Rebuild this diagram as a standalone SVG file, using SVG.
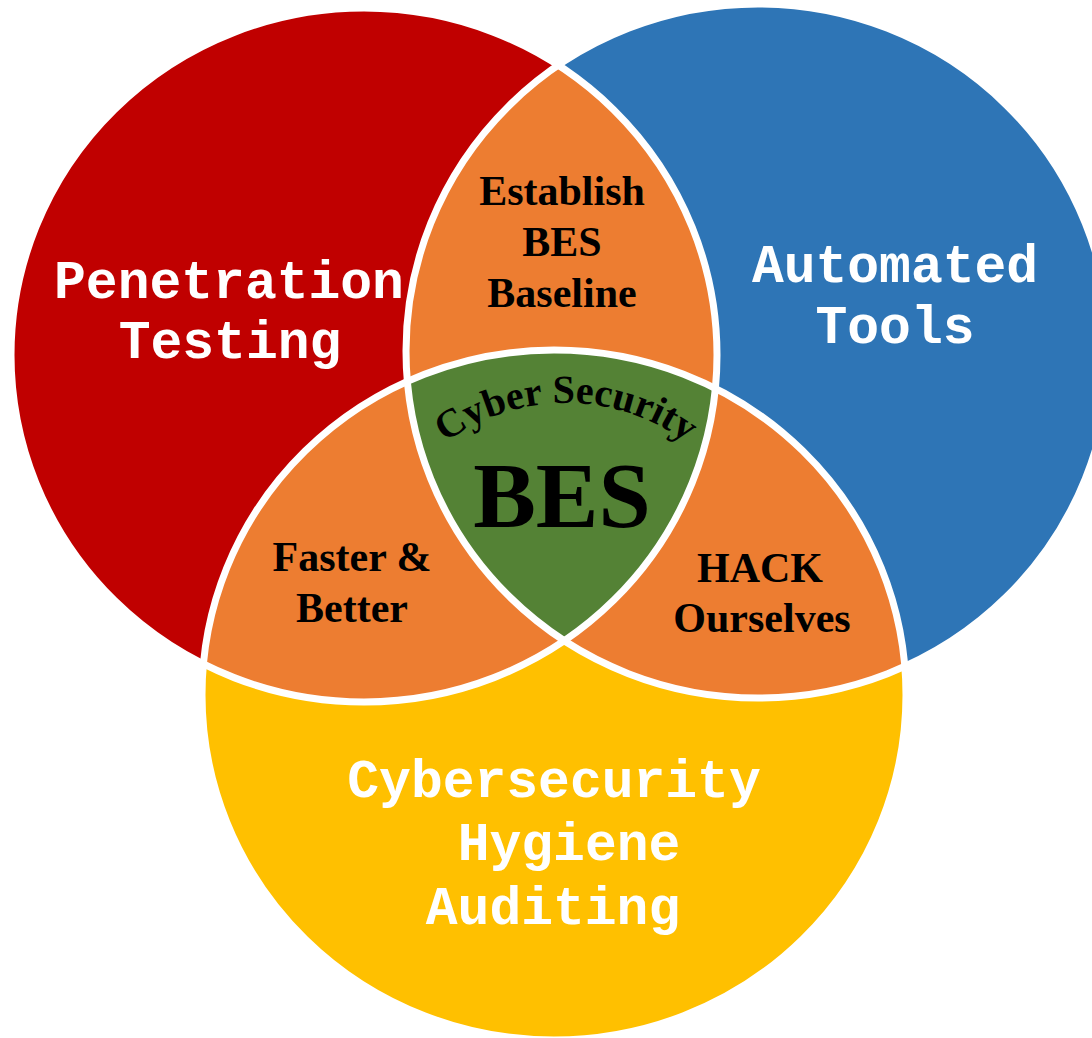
<svg xmlns="http://www.w3.org/2000/svg" xmlns:xlink="http://www.w3.org/1999/xlink" width="1092" height="1038" viewBox="0 0 1092 1038">
  <style>
    .mono { font-family: "Liberation Mono", "Courier New", monospace; font-weight: bold; font-size: 53px; fill: #FFFFFF; text-anchor: middle; }
    .serif { font-family: "Liberation Serif", "Times New Roman", serif; font-weight: bold; font-size: 42px; fill: #000000; text-anchor: middle; }
    .outline { fill: none; stroke: #FFFFFF; stroke-width: 7; }
    .orange { fill: #ED7D31; }
  </style>
  <defs>
    <ellipse id="eRed" cx="364" cy="355" rx="353" ry="347"/>
    <ellipse id="eBlue" cx="758" cy="351" rx="352" ry="347"/>
    <ellipse id="eYellow" cx="554" cy="695" rx="352" ry="345"/>
    <clipPath id="clipRed"><use xlink:href="#eRed"/></clipPath>
    <clipPath id="clipBlue"><use xlink:href="#eBlue"/></clipPath>
    <path id="arcText" d="M 363 606 A 203 203 0 0 1 769 606"/>
  </defs>
  <rect width="1092" height="1038" fill="#FFFFFF"/>

  <g id="penetration-testing">
    <use xlink:href="#eRed" fill="#C00000"/>
  </g>
  <g id="automated-tools">
    <use xlink:href="#eBlue" fill="#2E75B6"/>
  </g>
  <g id="hygiene-auditing">
    <use xlink:href="#eYellow" fill="#FFC000"/>
  </g>
  <g id="establish-baseline">
    <use xlink:href="#eBlue" class="orange" clip-path="url(#clipRed)"/>
  </g>
  <g id="faster-better">
    <use xlink:href="#eYellow" class="orange" clip-path="url(#clipRed)"/>
  </g>
  <g id="hack-ourselves">
    <use xlink:href="#eYellow" class="orange" clip-path="url(#clipBlue)"/>
  </g>
  <g id="bes-core">
    <g clip-path="url(#clipBlue)">
      <use xlink:href="#eYellow" fill="#548235" clip-path="url(#clipRed)"/>
    </g>
  </g>

  <g id="connectors">
    <use xlink:href="#eRed" class="outline"/>
    <use xlink:href="#eBlue" class="outline"/>
    <use xlink:href="#eYellow" class="outline"/>
  </g>

  <g id="labels">
    <text class="mono" x="229" y="298">Penetration</text>
    <text class="mono" x="230" y="358">Testing</text>
    <text class="mono" x="895" y="282">Automated</text>
    <text class="mono" x="895" y="343">Tools</text>
    <text class="mono" x="554" y="797">Cybersecurity</text>
    <text class="mono" x="569" y="860">Hygiene</text>
    <text class="mono" x="553" y="924">Auditing</text>

    <text class="serif" x="562" y="205">Establish</text>
    <text class="serif" x="562" y="256">BES</text>
    <text class="serif" x="562" y="307">Baseline</text>
    <text class="serif" x="352" y="571">Faster &amp;</text>
    <text class="serif" x="352" y="622">Better</text>
    <text class="serif" x="760" y="582">HACK</text>
    <text class="serif" x="762" y="632">Ourselves</text>

    <text class="serif" style="font-size:40px"><textPath xlink:href="#arcText" startOffset="50%">Cyber Security</textPath></text>
    <text class="serif" style="font-size:94px" x="562" y="527">BES</text>
  </g>
</svg>
